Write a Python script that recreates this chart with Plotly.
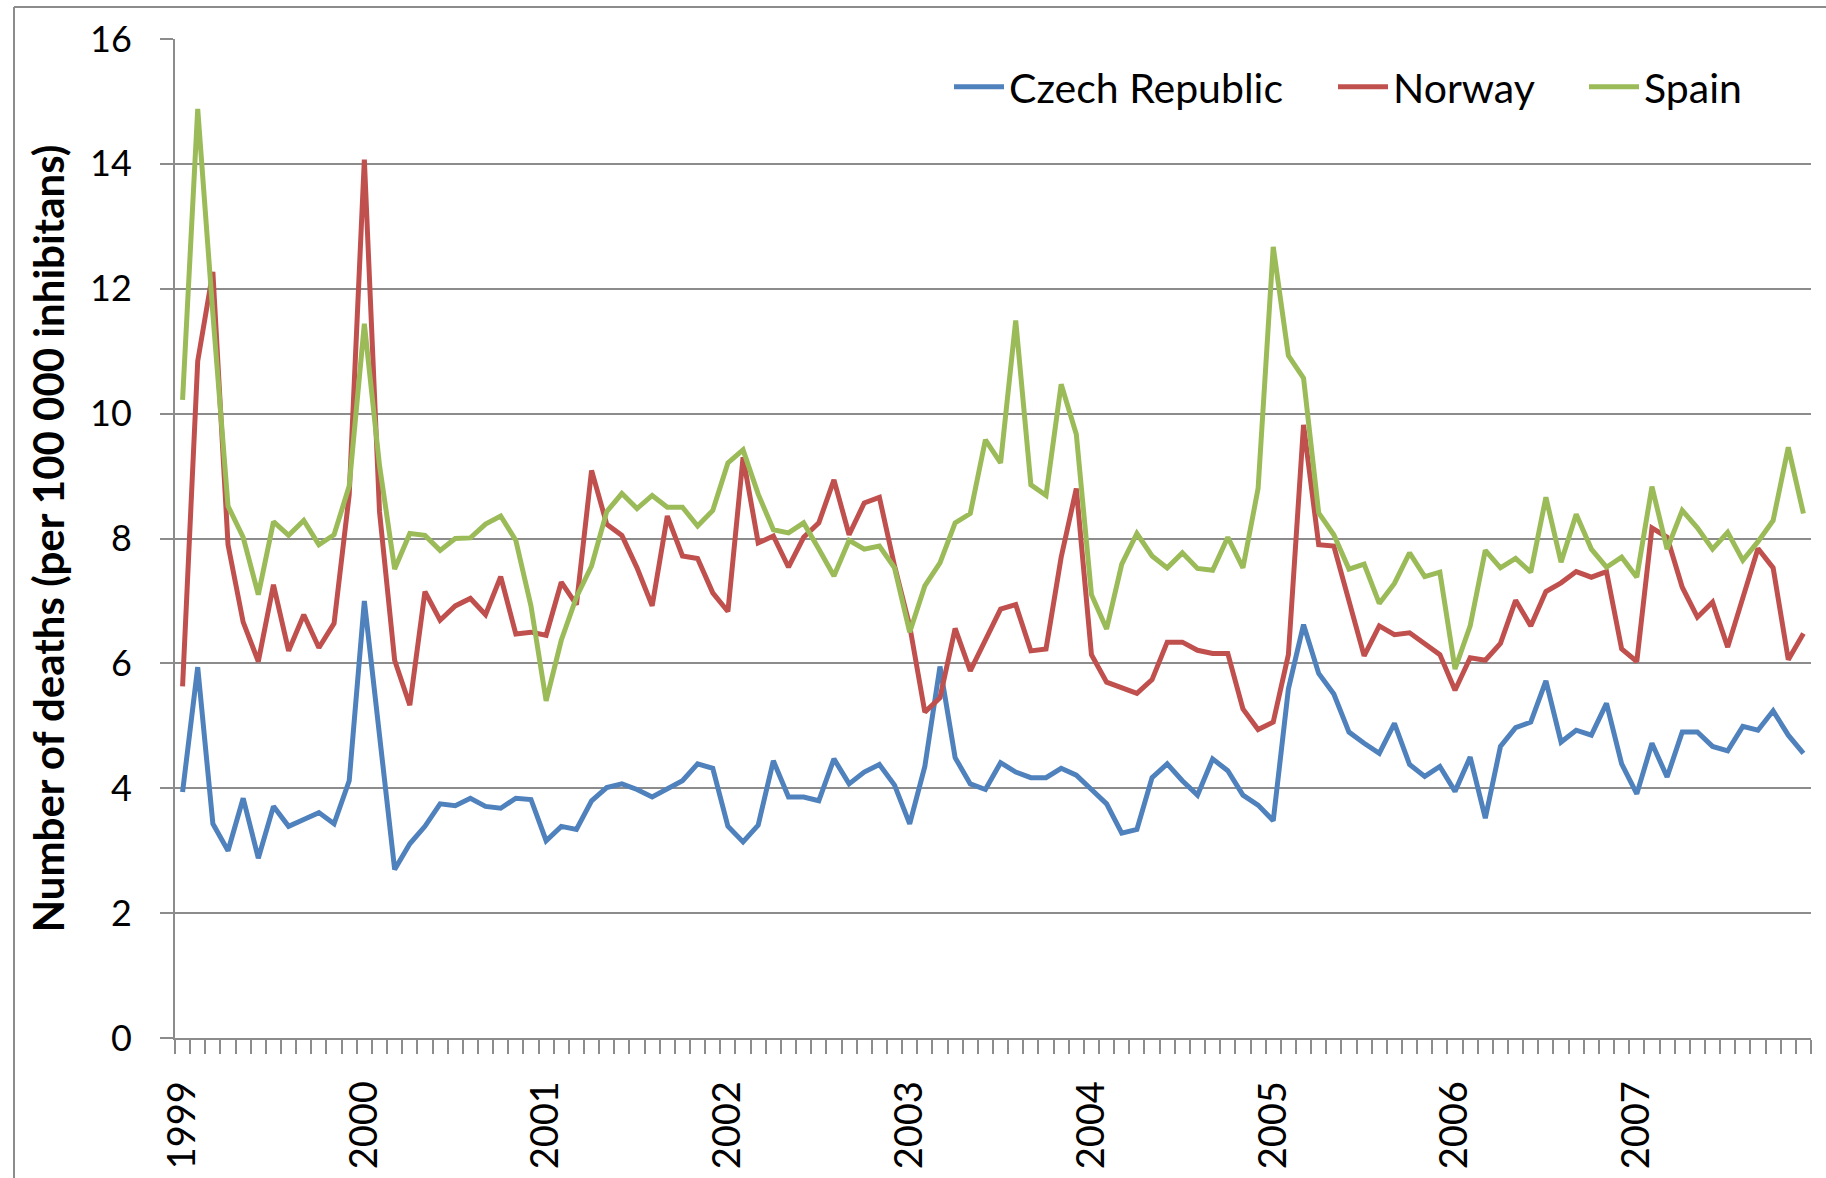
import plotly.graph_objects as go

years = [str(y) for y in range(1999, 2008)]
month_names = ["01", "02", "03", "04", "05", "06", "07", "08", "09", "10", "11", "12"]
months = [f"{y}-{m}" for y in years for m in month_names]
tick_text = [m[:4] if m.endswith("-01") else "" for m in months]

czech = [3.94, 5.94, 3.43, 3.00, 3.84, 2.88, 3.71, 3.39, 3.50, 3.61, 3.43, 4.12,
         7.00, 4.76, 2.70, 3.11, 3.39, 3.75, 3.72, 3.84, 3.71, 3.68, 3.84, 3.82,
         3.16, 3.39, 3.34, 3.80, 4.01, 4.07, 3.98, 3.86, 3.98, 4.12, 4.39, 4.32,
         3.39, 3.14, 3.41, 4.44, 3.86, 3.86, 3.80, 4.47, 4.07, 4.26, 4.38, 4.05,
         3.43, 4.35, 5.95, 4.49, 4.07, 3.98, 4.41, 4.26, 4.17, 4.17, 4.32, 4.21,
         3.98, 3.75, 3.28, 3.34, 4.17, 4.39, 4.12, 3.89, 4.47, 4.28, 3.89, 3.73,
         3.48, 5.59, 6.62, 5.84, 5.51, 4.90, 4.72, 4.56, 5.04, 4.38, 4.19, 4.35,
         3.95, 4.50, 3.52, 4.67, 4.97, 5.06, 5.72, 4.74, 4.93, 4.85, 5.36, 4.39,
         3.91, 4.72, 4.18, 4.90, 4.90, 4.67, 4.60, 4.99, 4.93, 5.24, 4.85, 4.56]

norway = [5.63, 10.84, 12.27, 7.90, 6.66, 6.03, 7.26, 6.20, 6.78, 6.25, 6.64, 8.70,
          14.07, 8.43, 6.05, 5.33, 7.15, 6.69, 6.92, 7.04, 6.78, 7.39, 6.47, 6.50,
          6.45, 7.30, 6.94, 9.09, 8.23, 8.05, 7.53, 6.92, 8.36, 7.72, 7.68, 7.13,
          6.83, 9.30, 7.93, 8.04, 7.54, 8.02, 8.25, 8.94, 8.06, 8.57, 8.66, 7.56,
          6.60, 5.22, 5.45, 6.56, 5.88, 6.37, 6.87, 6.94, 6.20, 6.23, 7.70, 8.80,
          6.14, 5.70, 5.61, 5.52, 5.74, 6.34, 6.34, 6.21, 6.16, 6.16, 5.27, 4.94,
          5.06, 6.14, 9.82, 7.90, 7.88, 7.01, 6.12, 6.60, 6.46, 6.49, 6.31, 6.14,
          5.57, 6.09, 6.05, 6.32, 7.01, 6.60, 7.15, 7.29, 7.47, 7.38, 7.47, 6.23,
          6.03, 8.17, 8.02, 7.22, 6.74, 6.98, 6.26, 7.06, 7.84, 7.53, 6.06, 6.48]

spain = [10.22, 14.88, 11.60, 8.52, 8.02, 7.10, 8.27, 8.05, 8.29, 7.90, 8.06, 8.84,
         11.44, 9.17, 7.51, 8.08, 8.05, 7.81, 8.00, 8.01, 8.23, 8.36, 7.97, 6.92,
         5.40, 6.37, 7.06, 7.56, 8.43, 8.72, 8.48, 8.69, 8.50, 8.50, 8.20, 8.45,
         9.21, 9.42, 8.71, 8.14, 8.09, 8.25, 7.83, 7.40, 7.97, 7.83, 7.88, 7.53,
         6.50, 7.24, 7.61, 8.25, 8.40, 9.58, 9.21, 11.49, 8.86, 8.69, 10.47, 9.67,
         7.10, 6.55, 7.59, 8.08, 7.72, 7.53, 7.77, 7.52, 7.49, 8.02, 7.53, 8.80,
         12.67, 10.93, 10.57, 8.41, 8.06, 7.51, 7.59, 6.96, 7.28, 7.77, 7.39, 7.46,
         5.91, 6.60, 7.81, 7.53, 7.68, 7.46, 8.66, 7.62, 8.39, 7.83, 7.54, 7.70,
         7.38, 8.83, 7.83, 8.45, 8.17, 7.83, 8.10, 7.65, 7.95, 8.29, 9.46, 8.40]

series = [("Czech Republic", czech, "#4F81BD"),
          ("Norway", norway, "#C0504D"),
          ("Spain", spain, "#9BBB59")]
legend_ids = ["legend", "legend2", "legend3"]
legend_line_start = [955, 1339, 1590]  # absolute pixel of legend sample start

y_ticks = [0, 2, 4, 6, 8, 10, 12, 14, 16]
y_title = "Number of deaths (per 100 000 inhibitans)"

GRID = "#8C8C8C"
FONT = "Lato, 'Liberation Sans', Arial, sans-serif"

W, H = 1826, 1178
L, R, T, B = 175, 15, 39, 140
pw, ph = W - L - R, H - T - B

fig = go.Figure()
for (name, vals, col), lid in zip(series, legend_ids):
    fig.add_trace(go.Scatter(x=months, y=vals, mode="lines", name=name,
                             legend=lid, line=dict(color=col, width=5)))

legend_y = 1 - (87 - T) / ph
legends = {}
for lid, xs in zip(legend_ids, legend_line_start):
    legends[lid] = dict(orientation="h", x=(xs - 6 - L) / pw, xanchor="left",
                        y=legend_y, yanchor="middle",
                        font=dict(size=41, family=FONT, color="black"),
                        bgcolor="rgba(0,0,0,0)", itemwidth=50)

fig.update_layout(
    width=W, height=H,
    margin=dict(l=L, r=R, t=T, b=B, autoexpand=False),
    paper_bgcolor="white", plot_bgcolor="white",
    font=dict(family=FONT, size=38, color="black"),
    showlegend=True,
    **legends,
    xaxis=dict(type="category", range=[-0.5, len(months) - 0.5],
               tickmode="array", tickvals=months, ticktext=tick_text,
               tickson="boundaries", ticks="outside", ticklen=14,
               tickcolor=GRID, tickwidth=1.5, tickangle=-90,
               tickfont=dict(size=38), automargin=False,
               showgrid=False, showline=True, linecolor=GRID, linewidth=2,
               zeroline=False, ticklabelstandoff=26),
    yaxis=dict(range=[0, 16], tickvals=y_ticks, ticks="outside", ticklen=13,
               tickcolor=GRID, tickwidth=1.5, tickfont=dict(size=36),
               showgrid=True, gridcolor=GRID, gridwidth=1.5, automargin=False,
               showline=True, linecolor=GRID, linewidth=2, zeroline=False,
               ticklabelstandoff=21,
               title=dict(text=y_title, standoff=12,
                          font=dict(size=42, family=FONT, weight="bold"))),
    shapes=[
        dict(type="line", xref="paper", yref="paper",
             x0=(14 - L) / pw, x1=(W + 5 - L) / pw,
             y0=1 + (T - 7) / ph, y1=1 + (T - 7) / ph,
             line=dict(color=GRID, width=2)),
        dict(type="line", xref="paper", yref="paper",
             x0=(14 - L) / pw, x1=(14 - L) / pw,
             y0=1 + (T - 7) / ph, y1=-(B + 5) / ph,
             line=dict(color=GRID, width=2)),
    ],
)

fig.write_html("out.html", config={"displayModeBar": False},
               post_script="document.body.style.margin='0px';document.body.style.overflow='hidden';")
